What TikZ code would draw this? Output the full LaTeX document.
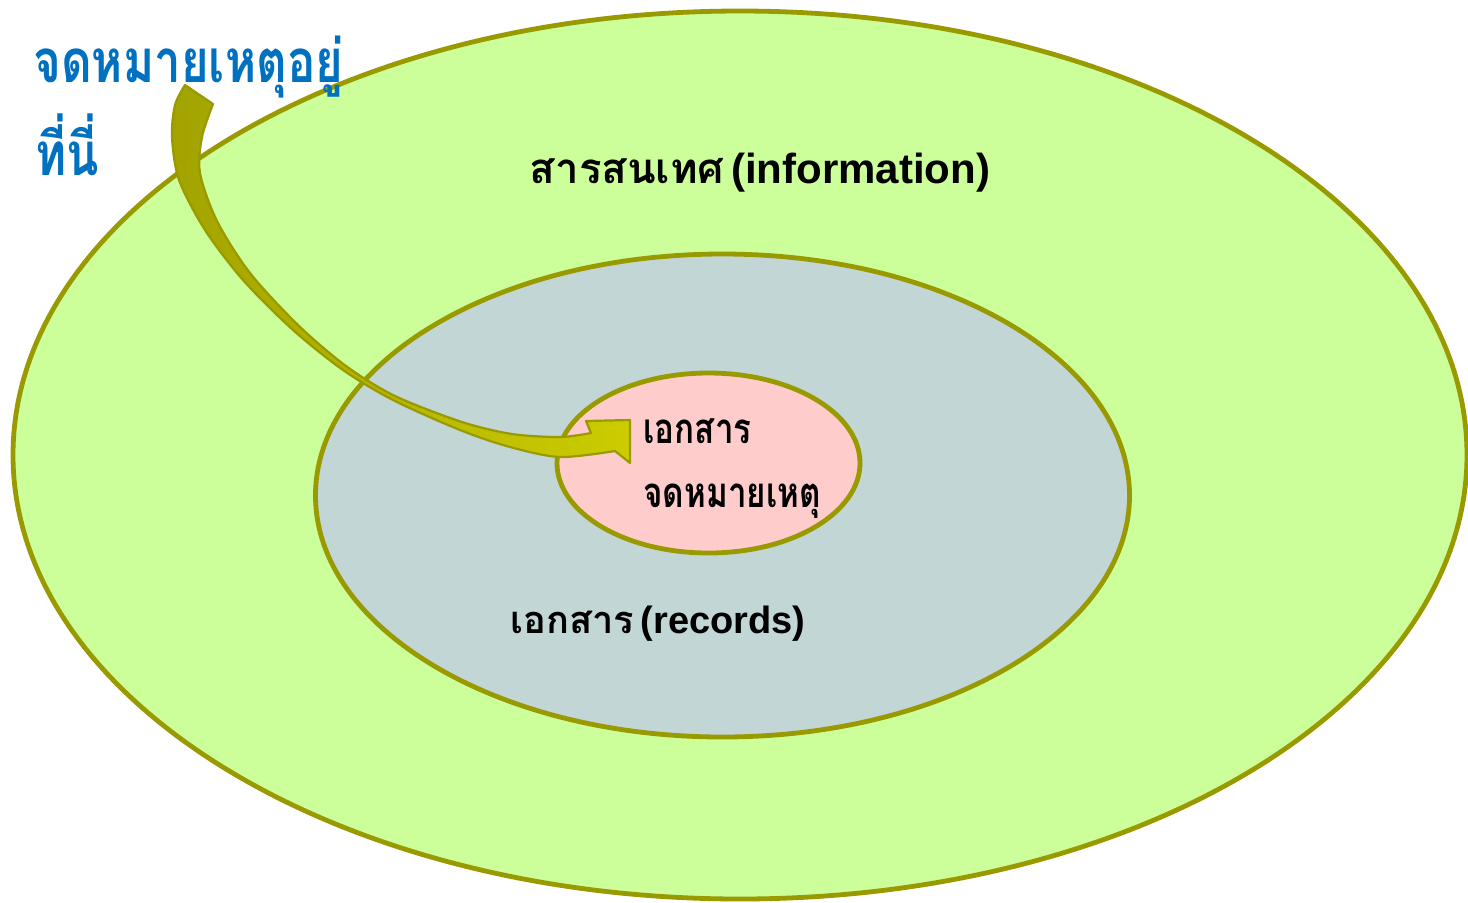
\documentclass[tikz,border=0pt]{standalone}
\usepackage{fontspec}
\usetikzlibrary{shapes.geometric}
\newfontfamily\thaifont[Script=Thai]{Loma}
\newfontfamily\thainarrow[Script=Thai, FakeStretch=0.79]{Loma}
\newfontfamily\latinsans{Liberation Sans}

\definecolor{rim}{HTML}{999900}
\definecolor{infofill}{HTML}{CCFF99}
\definecolor{recfill}{HTML}{C2D6D5}
\definecolor{archfill}{HTML}{FFCCCC}
\definecolor{arrowdark}{HTML}{A3A300}
\definecolor{arrowlight}{HTML}{CCCC00}
\definecolor{notecol}{HTML}{0070C0}

\tikzset{
  ring/.style={ellipse, draw=rim, line width=2.4pt, inner sep=0pt, outer sep=0pt},
  label/.style={inner sep=0pt, anchor=base, text=black},
  thailine/.style={inner sep=0pt, anchor=base west},
  arrowbody/.style={draw=rim, line width=1.1pt, line join=round,
    left color=arrowdark, middle color=arrowdark, right color=arrowlight}
}

\begin{document}
\begin{tikzpicture}[x=0.5pt, y=-0.5pt]
  \fill[white] (0,0) rectangle (1468,902);
  \useasboundingbox (0,0) rectangle (1468,902);

  % nested sets: information > records > archives
  \node[ring, fill=infofill, minimum width=727pt, minimum height=444pt] (info) at (740,455) {};
  \node[ring, fill=recfill, minimum width=407pt, minimum height=241.5pt] (records) at (722.5,495.5) {};
  \node[ring, fill=archfill, minimum width=151.5pt, minimum height=90pt] (archives) at (708.5,463) {};

  % set labels
  \node[label] (infolabel) at (760,183)
    {{\thaifont\bfseries\fontsize{21pt}{25pt}\selectfont สารสนเทศ} {\latinsans\bfseries\fontsize{21pt}{25pt}\selectfont (information)}};
  \node[label] (reclabel) at (658,633)
    {{\thaifont\bfseries\fontsize{19pt}{23pt}\selectfont เอกสาร} {\latinsans\bfseries\fontsize{19pt}{23pt}\selectfont (records)}};
  \node[thailine, font=\thainarrow\bfseries\fontsize{21pt}{25pt}\selectfont] (archA) at (643,443) {เอกสาร};
  \node[thailine, font=\thainarrow\bfseries\fontsize{21pt}{25pt}\selectfont] (archB) at (643,507) {จดหมายเหตุ};

  % pointer note
  \node[thailine, text=notecol, font=\thainarrow\bfseries\fontsize{30pt}{36pt}\selectfont] (noteA) at (33,82) {จดหมายเหตุอยู่};
  \node[thailine, text=notecol, font=\thainarrow\bfseries\fontsize{30pt}{36pt}\selectfont] (noteB) at (35,175) {ที่นี่};

  % curved block arrow from the note into the archives set
  \coordinate (tailL) at (185,85);
  \coordinate (tailR) at (213,104);
  \coordinate (tipTop) at (630,420);
  \coordinate (tipBot) at (630,463);
  \shadedraw[arrowbody]
    plot[smooth, tension=0.5] coordinates {(tailL) (175,105) (172,137) (179,180) (205,230) (243,280) (293,330) (343,370) (393,400) (460,430) (510,447) (560,457) (615,451)}
    -- (tipBot) -- (tipTop) -- (586,421) -- (591,433)
    -- plot[smooth, tension=0.5] coordinates {(591,433) (560,437) (512,434) (462,422) (395,396) (346,366) (298,325) (250,273) (217,221) (200,173) (202,137) (tailR)}
    -- cycle;
\end{tikzpicture}
\end{document}
